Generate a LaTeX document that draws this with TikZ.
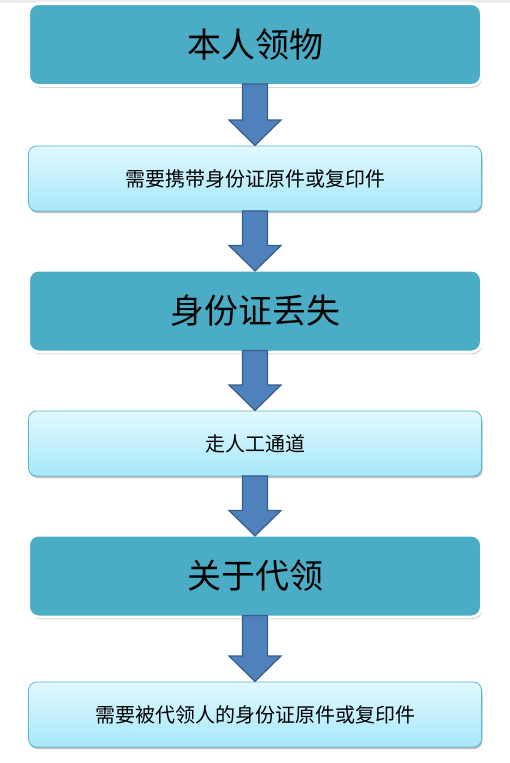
\documentclass[tikz,border=0pt]{standalone}
\usepackage{fontspec}
\newfontfamily\cjk{Noto Sans CJK SC}
\usetikzlibrary{positioning,calc,shadows}
\definecolor{headfill}{RGB}{75,172,198}
\definecolor{notetop}{RGB}{226,249,255}
\definecolor{notebot}{RGB}{166,232,250}
\definecolor{noteline}{RGB}{88,182,208}
\definecolor{arrowfill}{RGB}{79,129,189}
\definecolor{arrowline}{RGB}{56,93,138}
\begin{document}
\begin{tikzpicture}[
            font=\cjk,
            node distance=60.5pt,
            head/.style={draw=white, line width=3pt, rounded corners=10pt, fill=headfill, align=center,
                minimum width=453pt, minimum height=82pt, outer sep=-1.5pt, inner sep=0pt,
                font=\cjk\fontsize{34pt}{40pt}\selectfont,
                drop shadow={shadow xshift=1pt, shadow yshift=-2pt, opacity=0.3, fill=black}},
            note/.style={draw=noteline, line width=0.8pt, rounded corners=8pt, top color=notetop, bottom color=notebot,
                align=center, minimum width=453pt, minimum height=65pt, outer sep=0pt, inner sep=0pt,
                font=\cjk\fontsize{20pt}{24pt}\selectfont,
                drop shadow={shadow xshift=1pt, shadow yshift=-2pt, opacity=0.25, fill=black}},
            blockarrow/.style={fill=arrowfill, draw=arrowline, line width=1.2pt, line join=miter}
        ]
            \useasboundingbox (0,0) rectangle (510pt,-763pt);
            \fill[black!7] (0,0) rectangle (510pt,-2.5pt);

            \node[head] (own) at (255pt,-44.5pt) {本人领物};
            \node[note, below=62pt of own] (ownnote) {需要携带身份证原件或复印件};
            \node[head, below=of ownnote] (lost) {身份证丢失};
            \node[note, below=of lost] (lostnote) {走人工通道};
            \node[head, below=of lostnote] (proxy) {关于代领};
            \node[note, below=66.5pt of proxy] (proxynote) {需要被代领人的身份证原件或复印件};

            % block arrows between the boxes
            \foreach \from/\to in {own/ownnote, ownnote/lost, lost/lostnote, lostnote/proxy, proxy/proxynote}
                \draw[blockarrow] let \p1=(\from.south), \p2=(\to.north) in
                    (\x1-12.5pt,\y1) -- (\x1+12.5pt,\y1) -- (\x1+12.5pt,\y2+26pt) -- (\x1+26pt,\y2+26pt)
                    -- (\x2,\y2+0.6pt) -- (\x1-26pt,\y2+26pt) -- (\x1-12.5pt,\y2+26pt) -- cycle;
        \end{tikzpicture}
\end{document}
